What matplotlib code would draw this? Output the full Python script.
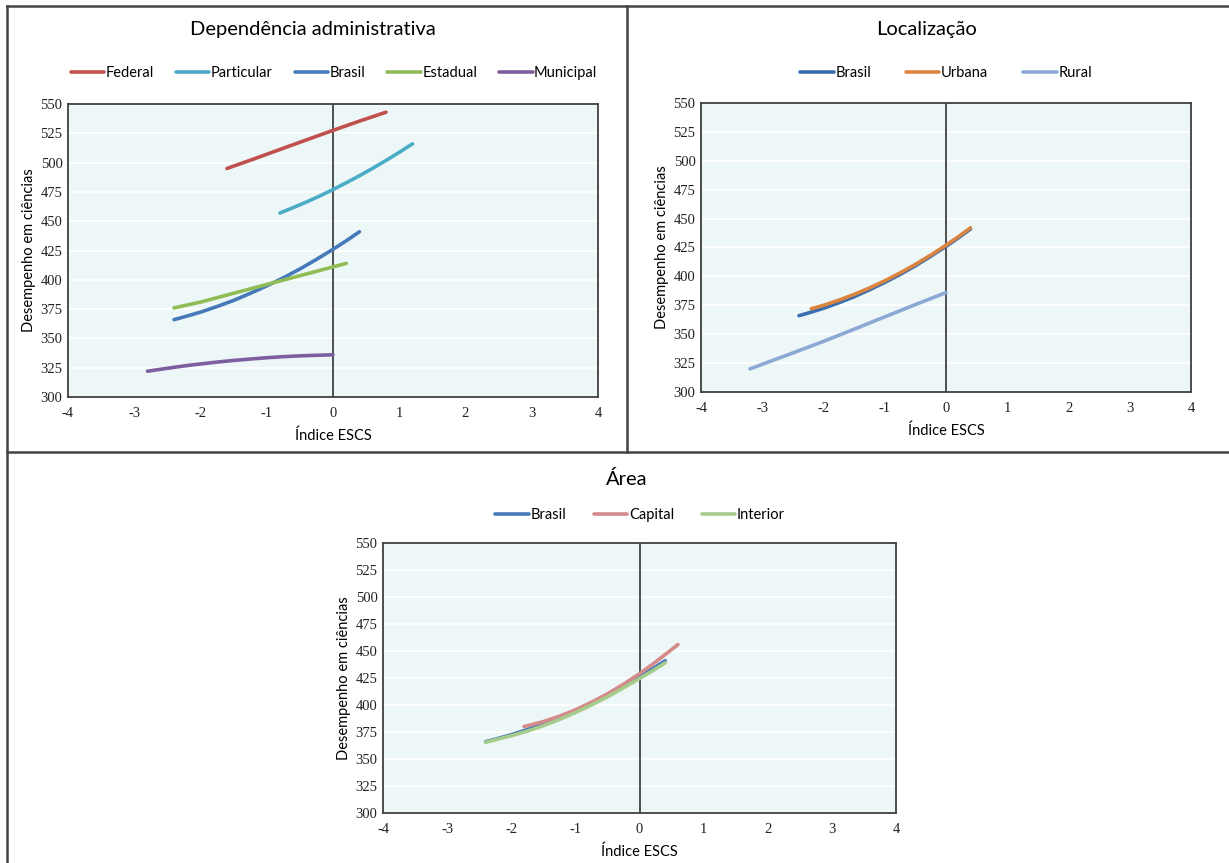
"""ESCS index vs. science performance, three panels."""

import matplotlib

matplotlib.use("Agg")
import matplotlib.pyplot as plt
from matplotlib.lines import Line2D

W, H = 1229, 863

# --- data (x = ESCS index, y = score) ---
federal_x = [-1.6, -1.2, -0.8, -0.4, 0.0, 0.4, 0.8]
federal_y = [495, 503, 511.2, 519.4, 527.5, 535.4, 543]
particular_x = [-0.8, -0.6, -0.4, -0.2, 0.0, 0.2, 0.4, 0.6, 0.8, 1.0, 1.2]
particular_y = [457, 461.6, 466.4, 471.5, 477, 482.8, 488.8, 495.2, 501.8, 508.8, 516]
brasil_x = [-2.4, -2.25, -2.0, -1.75, -1.5, -1.25, -1.0, -0.75, -0.5, -0.25, 0.0, 0.2, 0.4]
brasil_y = [366, 368.3, 372.4, 377.2, 382.4, 388.4, 394.8, 401.7, 409.2, 417.4, 426, 433.3, 441]
estadual_x = [-2.4, -2.0, -1.5, -1.0, -0.5, 0.0, 0.2]
estadual_y = [376, 381, 388.5, 396, 403.5, 411, 414]
municipal_x = [-2.8, -2.5, -2.25, -2.0, -1.75, -1.5, -1.25, -1.0, -0.75, -0.5, -0.25, 0.0]
municipal_y = [322, 324.5, 326.5, 328.2, 329.8, 331.2, 332.4, 333.5, 334.4, 335.1, 335.6, 336]

urbana_x = [-2.2, -2.0, -1.75, -1.5, -1.25, -1.0, -0.75, -0.5, -0.25, 0.0, 0.2, 0.4]
urbana_y = [372, 375, 379.4, 384.4, 390, 396.2, 403, 410.4, 418.4, 427, 434.3, 442]
rural_x = [-3.2, -2.5, -2.0, -1.5, -1.0, -0.5, 0.0]
rural_y = [320, 333.8, 343.8, 354.3, 365, 375.6, 386]

capital_x = [-1.8, -1.5, -1.25, -1.0, -0.75, -0.5, -0.25, 0.0, 0.2, 0.4, 0.6]
capital_y = [380, 384.6, 389.6, 395.5, 402.5, 410.3, 419.2, 429, 437.5, 446.7, 456]
interior_x = [-2.4, -2.0, -1.75, -1.5, -1.25, -1.0, -0.75, -0.5, -0.25, 0.0, 0.2, 0.4]
interior_y = [365.5, 371.5, 375.8, 380.8, 386.5, 393, 400, 407.5, 415.8, 424.5, 431.5, 439]

x_ticks = [-4, -3, -2, -1, 0, 1, 2, 3, 4]
y_ticks = list(range(300, 551, 25))

SANS = ["Lato", "DejaVu Sans"]
SERIF = ["Liberation Serif", "DejaVu Serif"]


def px_axes(fig, x0, y0, x1, y1):
    return fig.add_axes([x0 / W, 1 - y1 / H, (x1 - x0) / W, (y1 - y0) / H])


def style_axes(ax):
    ax.set_facecolor("#EEF7F7")
    ax.set_xlim(-4, 4)
    ax.set_ylim(300, 550)
    ax.set_xticks(x_ticks)
    ax.set_yticks(y_ticks)
    ax.set_xticklabels([str(t) for t in x_ticks], family=SERIF, fontsize=10.5)
    ax.set_yticklabels([str(t) for t in y_ticks], family=SERIF, fontsize=10.5)
    ax.tick_params(length=0, pad=4, colors="#222222")
    ax.tick_params(axis="x", pad=7)
    ax.grid(axis="y", color="white", linewidth=1.2)
    ax.set_axisbelow(True)
    for sp in ax.spines.values():
        sp.set_color("#404040")
        sp.set_linewidth(1.3)
    ax.axvline(0, color="#333333", linewidth=1.2, zorder=1.5)
    ax.set_xlabel("Índice ESCS", family=SANS, fontsize=10.5, labelpad=6)
    ax.set_ylabel("Desempenho em ciências", family=SANS, fontsize=10.5, labelpad=3)


def add_legend(fig, ax, cx, cy, spacing):
    handles, labels = ax.get_legend_handles_labels()
    fig.legend(handles, labels, loc="center", bbox_to_anchor=(cx / W, 1 - cy / H),
               ncol=len(handles), frameon=False, handlelength=2.3, handletextpad=0.1,
               columnspacing=spacing, prop={"family": SANS, "size": 10.5})


fig = plt.figure(figsize=(W / 100, H / 100), dpi=100)
fig.patch.set_facecolor("white")

# panel borders
border = dict(color="#444444", linewidth=1.8, transform=fig.transFigure)
for (xa, ya), (xb, yb) in [((7, 6), (1229, 6)), ((7, 6), (7, 863)),
                           ((627, 6), (627, 452)), ((7, 452), (1229, 452))]:
    fig.add_artist(Line2D([xa / W, xb / W], [1 - ya / H, 1 - yb / H], **border))

line_kw = dict(lw=2.6, solid_capstyle="round", solid_joinstyle="round")

# Dependência administrativa
ax1 = px_axes(fig, 68, 104, 598, 397)
ax1.plot(federal_x, federal_y, color="#C0504D", label="Federal", **line_kw)
ax1.plot(particular_x, particular_y, color="#4BACC6", label="Particular", **line_kw)
ax1.plot(brasil_x, brasil_y, color="#4679B9", label="Brasil", **line_kw)
ax1.plot(estadual_x, estadual_y, color="#8FBC55", label="Estadual", **line_kw)
ax1.plot(municipal_x, municipal_y, color="#7D5FA0", label="Municipal", **line_kw)
style_axes(ax1)
fig.text(313 / W, 1 - 30 / H, "Dependência administrativa", ha="center", va="center",
         family=SANS, fontsize=14.5)
add_legend(fig, ax1, 334, 73, 1.5)

# Localização
ax2 = px_axes(fig, 701, 103, 1191, 392)
ax2.plot(brasil_x, brasil_y, color="#3A6DB0", label="Brasil", **line_kw)
ax2.plot(urbana_x, urbana_y, color="#DB8440", label="Urbana", **line_kw)
ax2.plot(rural_x, rural_y, color="#8CA8D4", label="Rural", **line_kw)
style_axes(ax2)
fig.text(926 / W, 1 - 30 / H, "Localização", ha="center", va="center",
         family=SANS, fontsize=14.5)
add_legend(fig, ax2, 946, 73, 2.4)

# Área
ax3 = px_axes(fig, 383, 543, 896, 813)
ax3.plot(brasil_x, brasil_y, color="#4679B9", label="Brasil", **line_kw)
ax3.plot(capital_x, capital_y, color="#D48A8A", label="Capital", **line_kw)
ax3.plot(interior_x, interior_y, color="#A6CC8C", label="Interior", **line_kw)
style_axes(ax3)
fig.text(627 / W, 1 - 479 / H, "Área", ha="center", va="center",
         family=SANS, fontsize=14.5)
add_legend(fig, ax3, 640, 515, 1.9)

fig.savefig("out.png", dpi=100)
